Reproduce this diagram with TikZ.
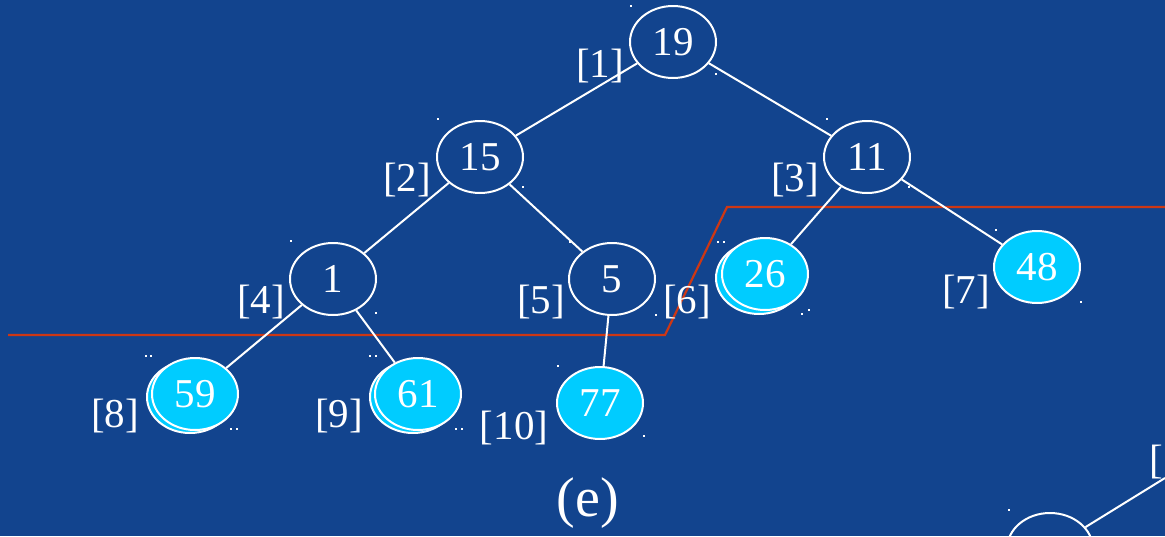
\documentclass[tikz,border=0pt]{standalone}
\usepackage{fontspec}
\setmainfont{Liberation Serif}
\usetikzlibrary{shapes.geometric}
\definecolor{bgblue}{RGB}{18,68,142}
\definecolor{leaf}{RGB}{0,204,255}
\definecolor{cutline}{RGB}{205,55,20}
\tikzset{
  heapnode/.style={ellipse, draw=white, line width=2pt, minimum width=86pt,
    minimum height=72pt, inner sep=0pt, text=white,
    font=\fontsize{41}{44}\selectfont},
  leafnode/.style={heapnode, fill=leaf},
  ghost/.style={heapnode, fill=leaf},
  idx/.style={text=white, font=\fontsize{41}{44}\selectfont, inner sep=0pt},
  edge/.style={draw=white, line width=2pt},
  mark dot/.style={fill=white}
}
\begin{document}
\begin{tikzpicture}[x=1pt,y=-1pt]
  \fill[bgblue] (0,0) rectangle (1165,536);
  \useasboundingbox (0,0) rectangle (1165,536);

  % cut line separating the levels
  \draw[cutline, line width=2.2pt] (8,335) -- (665,335) -- (727,207) -- (1165,207);

  % inner nodes
  \node[heapnode] (n19) at (673,42) {19};
  \node[heapnode] (n15) at (480,157) {15};
  \node[heapnode] (n11) at (867,157) {11};
  \node[heapnode] (n1)  at (333,279) {1};
  \node[heapnode] (n5)  at (612,279) {5};

  % leaves (some with an offset outline behind)
  \node[ghost] at (759,278) {};
  \node[leafnode] (n26) at (765,274) {26};
  \node[leafnode] (n48) at (1037,267) {48};
  \node[ghost] at (190,397) {};
  \node[leafnode] (n59) at (195,394) {59};
  \node[ghost] at (413,397) {};
  \node[leafnode] (n61) at (418,394) {61};
  \node[leafnode] (n77) at (600,403) {77};

  % partial subtree at the lower right
  \node[heapnode] (nx) at (1050,549) {};
  \coordinate (cx) at (1165,478);

  % edges
  \draw[edge] (n19) -- (n15);
  \draw[edge] (n19) -- (n11);
  \draw[edge] (n15) -- (n1);
  \draw[edge] (n15) -- (n5);
  \draw[edge] (n11) -- (n26);
  \draw[edge] (n11) -- (n48);
  \draw[edge] (n1) -- (n59);
  \draw[edge] (n1) -- (n61);
  \draw[edge] (n5) -- (n77);
  \draw[edge] (nx) -- (cx);

  % array indices
  \node[idx] (i1)  at (600,66)  {[1]};
  \node[idx] (i2)  at (407,180) {[2]};
  \node[idx] (i3)  at (795,180) {[3]};
  \node[idx] (i4)  at (261,302) {[4]};
  \node[idx] (i5)  at (541,302) {[5]};
  \node[idx] (i6)  at (687,302) {[6]};
  \node[idx] (i7)  at (966,292) {[7]};
  \node[idx] (i8)  at (115,416) {[8]};
  \node[idx] (i9)  at (339,416) {[9]};
  \node[idx] (i10) at (514,428) {[10]};
  \node[idx, anchor=west] (i11) at (1149,462) {[};

  % caption
  \node[text=white, font=\fontsize{56}{60}\selectfont, inner sep=0pt] (cap) at (588,503) {(e)};

  % small handle marks
  \foreach \p in {(630,7),(715,75),(437,120),(522,188),(826,120),(908,188),
                  (290,242),(375,314),(569,243),(655,316),(717,243),(723,243),
                  (801,315),(808,311),(995,231),(1080,303),(145,357),(150,357),
                  (230,430),(236,430),(369,357),(375,357),(455,430),(461,430),
                  (557,367),(643,437),(1008,511)}
    \fill[mark dot] \p rectangle ++(2,-2);
\end{tikzpicture}
\end{document}
